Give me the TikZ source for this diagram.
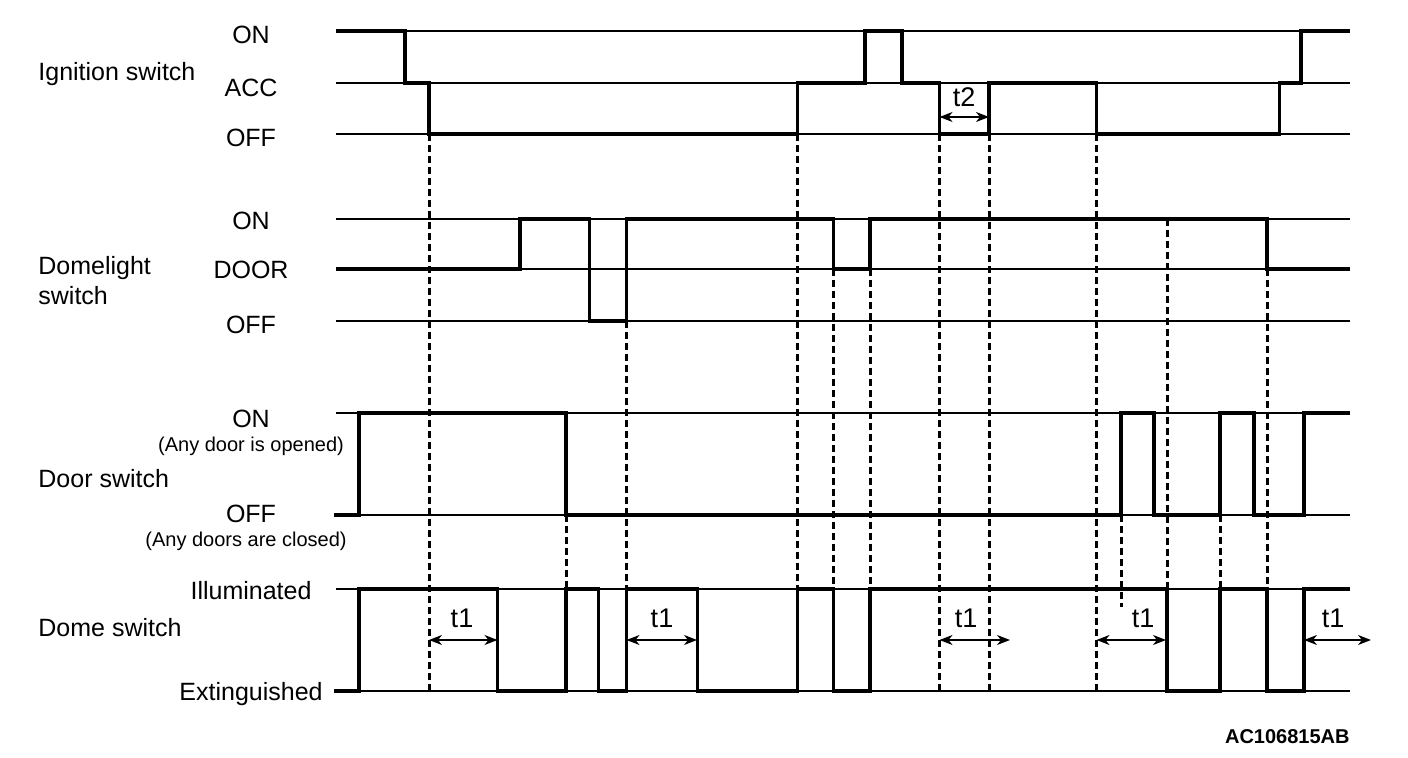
\documentclass[tikz,border=0pt]{standalone}
\usepackage{fontspec}
\setmainfont{Liberation Sans}
\usetikzlibrary{arrows.meta}
\newcommand*\smalltext[1]{{\fontsize{10}{12}\selectfont #1}}

\begin{document}
\begin{tikzpicture}[x=0.5pt, y=-0.5pt,
        font=\fontsize{12.5}{15}\selectfont,
        level/.style={line width=0.6pt},
        signal/.style={line width=1.7pt, line join=miter},
        guide/.style={line width=1.5pt, dash pattern=on 3.5pt off 2pt},
        span/.style={line width=0.7pt, {Stealth[length=6.5pt,width=5pt,inset=2pt]}-{Stealth[length=6.5pt,width=5pt,inset=2pt]}},
        timer/.style={anchor=base, inner sep=0, font=\fontsize{13.5}{16}\selectfont},
        rowtitle/.style={anchor=base west, inner sep=0},
        lvl/.style={anchor=base, inner sep=0}]
        \useasboundingbox (0,0) rectangle (1408,758);

        % level lines
        \foreach \y in {31,83,134,219,269,321,413,515,589,691}
            \draw[level] (336,\y) -- (1350,\y);

        % row titles
        \node[rowtitle] (ign) at (38,80.5) {Ignition switch};
        \node[rowtitle] (dl) at (38,275) {Domelight};
        \node[rowtitle] (dlb) at (38,305) {switch};
        \node[rowtitle] (door) at (38,488) {Door switch};
        \node[rowtitle] (dome) at (38,637) {Dome switch};

        % level names
        \node[lvl] (ignon) at (251,43.5) {ON};
        \node[lvl] (ignacc) at (251,97) {ACC};
        \node[lvl] (ignoff) at (251,146.5) {OFF};
        \node[lvl] (dlon) at (251,230) {ON};
        \node[lvl] (dldoor) at (251,278.5) {DOOR};
        \node[lvl] (dloff) at (251,334) {OFF};
        \node[lvl] (dooron) at (251,428) {ON};
        \node[lvl] (dooropen) at (251,452) {\smalltext{(Any door is opened)}};
        \node[lvl] (dooroff) at (251,523) {OFF};
        \node[lvl] (doorshut) at (246,547) {\smalltext{(Any doors are closed)}};
        \node[lvl] (domeill) at (251,600) {Illuminated};
        \node[lvl] (domeext) at (251,700) {Extinguished};

        % signals
        \draw[signal] (336,31) -| (405,83) -| (429,134) -| (797.5,83) -| (865,31) -| (902,83)
            -| (939.5,134) -| (989,83) -| (1096.5,134) -| (1279.5,83) -| (1301,31) -- (1350,31);
        \draw[signal] (336,269) -| (520,219) -| (589.5,321) -| (626.5,219) -| (833.5,269)
            -| (870,219) -| (1267,269) -- (1350,269);
        \draw[signal] (334,515) -| (359,413) -| (566,515) -| (1121,413) -| (1154,515)
            -| (1220,413) -| (1254,515) -| (1304,413) -- (1350,413);
        \draw[signal] (334,691) -| (359,589) -| (497.5,691) -| (566,589) -| (598.5,691)
            -| (626.5,589) -| (697.5,691) -| (797.5,589) -| (833.5,691) -| (870,589)
            -| (1167,691) -| (1220,589) -| (1267,691) -| (1304,589) -- (1350,589);

        % dashed guides
        \draw[guide] (429,134) -- (429,691);
        \draw[guide] (566,515) -- (566,589);
        \draw[guide] (626.5,321) -- (626.5,589);
        \draw[guide] (797.5,134) -- (797.5,589);
        \draw[guide] (833.5,269) -- (833.5,589);
        \draw[guide] (870,269) -- (870,589);
        \draw[guide] (939.5,134) -- (939.5,691);
        \draw[guide] (989,134) -- (989,691);
        \draw[guide] (1096.5,134) -- (1096.5,691);
        \draw[guide] (1121,515) -- (1121,607);
        \draw[guide] (1167,219) -- (1167,589);
        \draw[guide] (1220,515) -- (1220,589);
        \draw[guide] (1267,269) -- (1267,589);

        % timers
        \draw[span] (939.5,117) -- (989,117);
        \node[timer] (t2) at (964,107) {t2};
        \draw[span] (429,640) -- (497.5,640);
        \node[timer] (t1a) at (462,627) {t1};
        \draw[span] (626.5,640) -- (697,640);
        \node[timer] (t1b) at (662,627) {t1};
        \draw[span] (939.5,640) -- (1010,640);
        \node[timer] (t1c) at (966,627) {t1};
        \draw[span] (1096.5,640) -- (1166,640);
        \node[timer] (t1d) at (1143,627) {t1};
        \draw[span] (1304,640) -- (1371,640);
        \node[timer] (t1e) at (1333,627) {t1};

        \node[anchor=base east, inner sep=0, font=\fontsize{10}{12}\selectfont\bfseries] (code) at (1350,743) {AC106815AB};
    \end{tikzpicture}
\end{document}
